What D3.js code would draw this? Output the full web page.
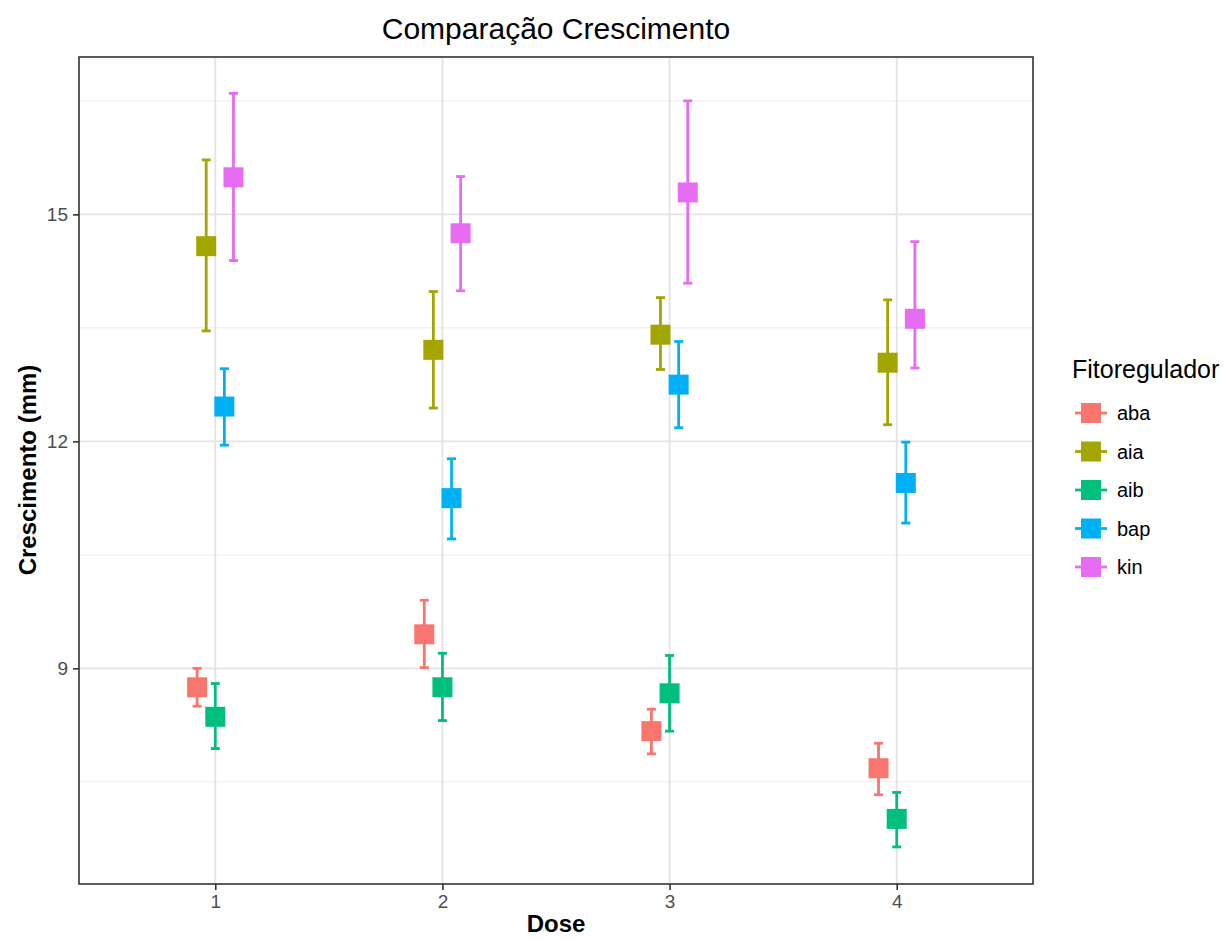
<!DOCTYPE html>
<html><head><meta charset="UTF-8"><title>Comparação Crescimento</title>
<script src="https://cdn.jsdelivr.net/npm/d3@7"></script>
<style>
	body { margin:0; background:#fff; }
	text { font-family:"Liberation Sans", Arial, sans-serif; }
</style>
</head><body>
<svg id="chart" width="1225" height="941"></svg>
<script>
// dados
var doses=["1","2","3","4"];
var grupos=["aba","aia","aib","bap","kin"];
var cores=["#F8766D","#A3A500","#00BF7D","#00B0F6","#E76BF3"];
// media por grupo, na ordem das doses
var aba=[8.75,9.45,8.17,7.68];
var aia=[14.58,13.21,13.41,13.04];
var aib=[8.36,8.75,8.67,7.01];
var bap=[12.46,11.25,12.75,11.45];
var kin=[15.49,14.75,15.29,13.62];
// limites das barras de erro
var abaLo=[8.50,9.01,7.87,7.33], abaHi=[9.00,9.90,8.46,8.01];
var aiaLo=[13.46,12.44,12.95,12.22], aiaHi=[15.72,13.98,13.90,13.87];
var aibLo=[7.94,8.31,8.17,6.64], aibHi=[8.80,9.20,9.17,7.36];
var bapLo=[11.95,10.71,12.18,10.92], bapHi=[12.96,11.77,13.32,11.99];
var kinLo=[14.39,13.99,14.09,12.97], kinHi=[16.60,15.50,16.50,14.64];
var yTicks=[9,12,15];
var yMinor=[7.5,10.5,13.5,16.5];

var medias={aba:aba,aia:aia,aib:aib,bap:bap,kin:kin};
var baixo={aba:abaLo,aia:aiaLo,aib:aibLo,bap:bapLo,kin:kinLo};
var alto={aba:abaHi,aia:aiaHi,aib:aibHi,bap:bapHi,kin:kinHi};

var dados=[];
grupos.forEach(function(g){
	doses.forEach(function(d,i){
		dados.push({g:g,dose:d,y:medias[g][i],lo:baixo[g][i],hi:alto[g][i]});
	});
});

var svg=d3.select('#chart');
var L=79,R=1033,T=57,B=884;

// eixo x discreto com expansao de 0.6
var xLin=d3.scaleLinear().domain([0.4,4.6]).range([L,R]);
var x=function(d){return xLin(+d);};
var dodge=d3.scalePoint().domain(grupos).range([-0.08,0.08]);
var y=d3.scaleLinear().domain([6.15,17.08]).range([B,T]);
var cor=d3.scaleOrdinal().domain(grupos).range(cores);

// grade
var grade=svg.append('g');
grade.selectAll('.minor').data(yMinor).enter().append('line')
	.attr('x1',L).attr('x2',R).attr('y1',y).attr('y2',y)
	.attr('stroke','#ebebeb').attr('stroke-width',1);
grade.selectAll('.major').data(yTicks).enter().append('line')
	.attr('x1',L).attr('x2',R).attr('y1',y).attr('y2',y)
	.attr('stroke','#e3e3e3').attr('stroke-width',1.8);
grade.selectAll('.vx').data(doses).enter().append('line')
	.attr('x1',x).attr('x2',x).attr('y1',T).attr('y2',B)
	.attr('stroke','#e3e3e3').attr('stroke-width',1.8);

// barras de erro
var marcas=svg.append('g');
var px=function(d){return xLin(+d.dose+dodge(d.g));};
var eb=marcas.selectAll('.eb').data(dados).enter().append('g')
	.attr('stroke',function(d){return cor(d.g);}).attr('stroke-width',2.8);
eb.append('line').attr('x1',px).attr('x2',px)
	.attr('y1',function(d){return y(d.lo);}).attr('y2',function(d){return y(d.hi);});
eb.append('line').attr('x1',function(d){return px(d)-4.5;}).attr('x2',function(d){return px(d)+4.5;})
	.attr('y1',function(d){return y(d.lo);}).attr('y2',function(d){return y(d.lo);});
eb.append('line').attr('x1',function(d){return px(d)-4.5;}).attr('x2',function(d){return px(d)+4.5;})
	.attr('y1',function(d){return y(d.hi);}).attr('y2',function(d){return y(d.hi);});

// pontos quadrados
marcas.selectAll('.pt').data(dados).enter().append('rect')
	.attr('x',function(d){return px(d)-10;}).attr('y',function(d){return y(d.y)-10;})
	.attr('width',20).attr('height',20).attr('fill',function(d){return cor(d.g);});

// moldura
svg.append('rect').attr('x',L).attr('y',T).attr('width',R-L).attr('height',B-T)
	.attr('fill','none').attr('stroke','#333').attr('stroke-width',1.6);

// eixos
var ax=svg.append('g').attr('transform','translate(0,'+B+')')
	.call(d3.axisBottom(xLin).tickValues([1,2,3,4]).tickFormat(d3.format('d')).tickSize(6).tickPadding(5));
var ay=svg.append('g').attr('transform','translate('+L+',0)')
	.call(d3.axisLeft(y).tickValues(yTicks).tickSize(6).tickPadding(5));
[ax,ay].forEach(function(a){
	a.select('.domain').remove();
	a.selectAll('.tick line').attr('stroke','#333').attr('stroke-width',1.6);
	a.selectAll('.tick text').attr('fill','#4d4d4d').style('font-size','19px');
});

// titulos
svg.append('text').attr('x',556).attr('y',39).attr('text-anchor','middle')
	.style('font-size','30px').attr('fill','#000').text('Comparação Crescimento');
svg.append('text').attr('x',556).attr('y',932).attr('text-anchor','middle')
	.style('font-size','24px').style('font-weight','bold').text('Dose');
svg.append('text').attr('transform','translate(36,470) rotate(-90)').attr('text-anchor','middle')
	.style('font-size','24px').style('font-weight','bold').text('Crescimento (mm)');

// legenda
var leg=svg.append('g');
leg.append('text').attr('x',1072).attr('y',378).style('font-size','25px').text('Fitoregulador');
var item=leg.selectAll('.it').data(grupos).enter().append('g')
	.attr('transform',function(d,i){return 'translate(1091,'+(413+i*38.5)+')';});
item.append('line').attr('x1',-16).attr('x2',16).attr('stroke',cor).attr('stroke-width',2.8);
item.append('rect').attr('x',-10).attr('y',-10).attr('width',20).attr('height',20).attr('fill',cor);
item.append('text').attr('x',26).attr('y',7).style('font-size','20px').text(function(d){return d;});
</script>
</body></html>
